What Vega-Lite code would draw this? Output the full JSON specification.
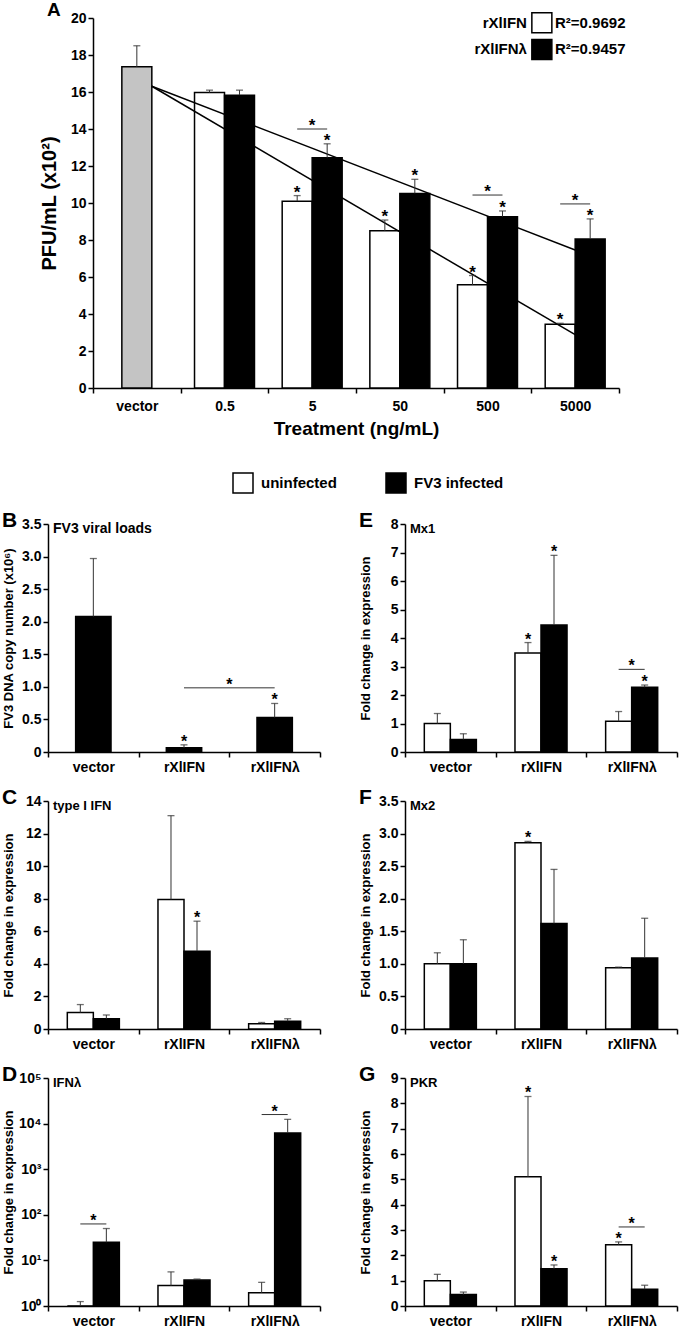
{
 "$schema": "https://vega.github.io/schema/vega-lite/v6.json",
 "padding": {"left": 1, "top": 0, "right": 2, "bottom": 0},
 "config": {
  "font": "Liberation Sans",
  "view": {"stroke": null},
  "axis": {"domainColor": "black", "domainWidth": 1.5, "tickColor": "black", "tickWidth": 1.5, "tickSize": 5, "labelColor": "black", "labelFontWeight": "bold", "labelFontSize": 14, "titleColor": "black", "titleFontWeight": "bold", "titleFontSize": 13, "grid": false, "labelPadding": 2, "labelOverlap": false},
  "axisX": {"labelPadding": 3},
  "title": {"color": "black", "fontWeight": "bold"},
  "text": {"font": "Liberation Sans", "fontWeight": "bold", "color": "black"}
 },
 "datasets": {
  "A": [
   {"t": "vector", "s": "vector", "v": 17.36, "hi": 18.5, "star": false},
   {"t": "0.5", "s": "rXlIFN", "v": 15.97, "hi": 16.1, "star": false},
   {"t": "0.5", "s": "rXlIFNλ", "v": 15.83, "hi": 16.1, "star": false},
   {"t": "5", "s": "rXlIFN", "v": 10.1, "hi": 10.4, "star": true},
   {"t": "5", "s": "rXlIFNλ", "v": 12.45, "hi": 13.2, "star": true},
   {"t": "50", "s": "rXlIFN", "v": 8.5, "hi": 9.08, "star": true},
   {"t": "50", "s": "rXlIFNλ", "v": 10.52, "hi": 11.28, "star": true},
   {"t": "500", "s": "rXlIFN", "v": 5.58, "hi": 6.08, "star": true},
   {"t": "500", "s": "rXlIFNλ", "v": 9.26, "hi": 9.57, "star": true},
   {"t": "5000", "s": "rXlIFN", "v": 3.45, "hi": 3.5, "star": true},
   {"t": "5000", "s": "rXlIFNλ", "v": 8.06, "hi": 9.14, "star": true}
  ],
  "SA": [
   {"t": "5", "y": 14.0},
   {"t": "500", "y": 10.43},
   {"t": "5000", "y": 9.95}
  ],
  "P": [
   {"p": "B", "c": "vector", "s": "FV3 infected", "v": 2.08, "hi": 2.97, "star": false},
   {"p": "B", "c": "rXlIFN", "s": "FV3 infected", "v": 0.065, "hi": 0.11, "star": true},
   {"p": "B", "c": "rXlIFNλ", "s": "FV3 infected", "v": 0.53, "hi": 0.745, "star": true},
   {"p": "C", "c": "vector", "s": "uninfected", "v": 1.01, "hi": 1.5, "star": false},
   {"p": "C", "c": "vector", "s": "FV3 infected", "v": 0.63, "hi": 0.86, "star": false},
   {"p": "C", "c": "rXlIFN", "s": "uninfected", "v": 7.95, "hi": 13.1, "star": false},
   {"p": "C", "c": "rXlIFN", "s": "FV3 infected", "v": 4.78, "hi": 6.62, "star": true},
   {"p": "C", "c": "rXlIFNλ", "s": "uninfected", "v": 0.32, "hi": 0.4, "star": false},
   {"p": "C", "c": "rXlIFNλ", "s": "FV3 infected", "v": 0.48, "hi": 0.63, "star": false},
   {"p": "D", "c": "vector", "s": "uninfected", "v": 1.0, "hi": 1.25, "star": false},
   {"p": "D", "c": "vector", "s": "FV3 infected", "v": 25, "hi": 50, "star": false},
   {"p": "D", "c": "rXlIFN", "s": "uninfected", "v": 2.8, "hi": 5.6, "star": false},
   {"p": "D", "c": "rXlIFN", "s": "FV3 infected", "v": 3.7, "hi": 3.9, "star": false},
   {"p": "D", "c": "rXlIFNλ", "s": "uninfected", "v": 1.95, "hi": 3.3, "star": false},
   {"p": "D", "c": "rXlIFNλ", "s": "FV3 infected", "v": 6200, "hi": 12400, "star": false},
   {"p": "E", "c": "vector", "s": "uninfected", "v": 1.0, "hi": 1.35, "star": false},
   {"p": "E", "c": "vector", "s": "FV3 infected", "v": 0.44, "hi": 0.64, "star": false},
   {"p": "E", "c": "rXlIFN", "s": "uninfected", "v": 3.47, "hi": 3.84, "star": true},
   {"p": "E", "c": "rXlIFN", "s": "FV3 infected", "v": 4.46, "hi": 6.9, "star": true},
   {"p": "E", "c": "rXlIFNλ", "s": "uninfected", "v": 1.08, "hi": 1.42, "star": false},
   {"p": "E", "c": "rXlIFNλ", "s": "FV3 infected", "v": 2.27, "hi": 2.35, "star": true},
   {"p": "F", "c": "vector", "s": "uninfected", "v": 1.0, "hi": 1.17, "star": false},
   {"p": "F", "c": "vector", "s": "FV3 infected", "v": 1.0, "hi": 1.37, "star": false},
   {"p": "F", "c": "rXlIFN", "s": "uninfected", "v": 2.86, "hi": 2.88, "star": true},
   {"p": "F", "c": "rXlIFN", "s": "FV3 infected", "v": 1.62, "hi": 2.45, "star": false},
   {"p": "F", "c": "rXlIFNλ", "s": "uninfected", "v": 0.94, "hi": 0.95, "star": false},
   {"p": "F", "c": "rXlIFNλ", "s": "FV3 infected", "v": 1.09, "hi": 1.7, "star": false},
   {"p": "G", "c": "vector", "s": "uninfected", "v": 1.0, "hi": 1.25, "star": false},
   {"p": "G", "c": "vector", "s": "FV3 infected", "v": 0.45, "hi": 0.55, "star": false},
   {"p": "G", "c": "rXlIFN", "s": "uninfected", "v": 5.1, "hi": 8.27, "star": true},
   {"p": "G", "c": "rXlIFN", "s": "FV3 infected", "v": 1.47, "hi": 1.62, "star": true},
   {"p": "G", "c": "rXlIFNλ", "s": "uninfected", "v": 2.42, "hi": 2.53, "star": true},
   {"p": "G", "c": "rXlIFNλ", "s": "FV3 infected", "v": 0.66, "hi": 0.82, "star": false}
  ],
  "S": [
   {"p": "D", "c": "vector", "y": 63},
   {"p": "D", "c": "rXlIFNλ", "y": 15800},
   {"p": "E", "c": "rXlIFNλ", "y": 2.9},
   {"p": "G", "c": "rXlIFNλ", "y": 3.12}
  ]
 },
 "resolve": {"scale": {"xOffset": "independent"}},
 "spacing": 72,
 "vconcat": [
  {
   "spacing": 0,
   "hconcat": [
    {"width": 38, "height": 10, "data": {"values": []}, "mark": "rect"},
    {
     "width": 526, "height": 370,
     "title": {"text": "A", "anchor": "start", "frame": "group", "fontSize": 19, "offset": -10, "dx": -46},
     "data": {"name": "A"},
     "layer": [
      {"transform": [{"filter": "datum.s === 'vector'"}],
       "mark": {"type": "bar", "stroke": "black", "strokeWidth": 1.5, "width": {"band": 0.342}},
       "encoding": {
        "x": {"field": "t", "type": "nominal", "scale": {"domain": ["vector", "0.5", "5", "50", "500", "5000"], "paddingInner": 0, "paddingOuter": 0}, "axis": {"title": "Treatment (ng/mL)", "labelAngle": 0, "tickBand": "extent", "labelFontSize": 14, "titleFontSize": 19, "labelPadding": 6, "titlePadding": 6}},
        "y": {"field": "v", "type": "quantitative", "scale": {"domain": [0, 20], "nice": false}, "axis": {"title": "PFU/mL (x10²)", "values": [0, 2, 4, 6, 8, 10, 12, 14, 16, 18, 20], "tickCount": 30, "format": "d", "titleFontSize": 20, "titlePadding": 8, "minExtent": 26, "maxExtent": 26}},
        "color": {"field": "s", "type": "nominal", "scale": {"domain": ["vector", "rXlIFN", "rXlIFNλ"], "range": ["#c4c4c4", "#ffffff", "#000000"]}, "legend": null}
       }},
      {"transform": [{"filter": "datum.s !== 'vector'"}],
       "mark": {"type": "bar", "stroke": "black", "strokeWidth": 1.5},
       "encoding": {
        "x": {"field": "t", "type": "nominal"},
        "xOffset": {"field": "s", "type": "nominal", "scale": {"domain": ["rXlIFN", "rXlIFNλ"], "paddingInner": 0, "paddingOuter": 0.462}},
        "y": {"field": "v", "type": "quantitative"},
        "color": {"field": "s", "type": "nominal", "legend": null}
       }},
      {"data": {"values": [{"from": "vector", "to": "5000", "y0": 16.31, "y1": 2.88}, {"from": "vector", "to": "5000", "y0": 16.31, "y1": 7.46}]},
       "mark": {"type": "rule", "color": "black", "strokeWidth": 1.5},
       "encoding": {
        "x": {"field": "from", "type": "nominal", "bandPosition": 0.671},
        "x2": {"field": "to", "bandPosition": 0.5},
        "y": {"field": "y0", "type": "quantitative"},
        "y2": {"field": "y1"}
       }},
      {"transform": [{"filter": "datum.s === 'vector'"}],
       "layer": [
        {"mark": {"type": "rule", "color": "#333", "strokeWidth": 1},
         "encoding": {"x": {"field": "t", "type": "nominal"}, "y": {"field": "v", "type": "quantitative"}, "y2": {"field": "hi"}}},
        {"mark": {"type": "tick", "color": "#333", "size": 7, "thickness": 1.3},
         "encoding": {"x": {"field": "t", "type": "nominal"}, "y": {"field": "hi", "type": "quantitative"}}}
       ]},
      {"transform": [{"filter": "datum.s !== 'vector'"}],
       "layer": [
        {"mark": {"type": "rule", "color": "#333", "strokeWidth": 1},
         "encoding": {"x": {"field": "t", "type": "nominal"}, "xOffset": {"field": "s", "type": "nominal"}, "y": {"field": "v", "type": "quantitative"}, "y2": {"field": "hi"}}},
        {"mark": {"type": "tick", "color": "#333", "size": 7, "thickness": 1.3},
         "encoding": {"x": {"field": "t", "type": "nominal"}, "xOffset": {"field": "s", "type": "nominal"}, "y": {"field": "hi", "type": "quantitative"}}},
        {"transform": [{"filter": "datum.star"}],
         "mark": {"type": "text", "text": "*", "fontSize": 17, "baseline": "alphabetic", "dy": 2},
         "encoding": {"x": {"field": "t", "type": "nominal"}, "xOffset": {"field": "s", "type": "nominal"}, "y": {"field": "hi", "type": "quantitative"}}}
       ]},
      {"data": {"name": "SA"},
       "layer": [
        {"mark": {"type": "rule", "color": "#333", "strokeWidth": 1},
         "encoding": {"x": {"field": "t", "type": "nominal", "bandPosition": 0.329}, "x2": {"field": "t", "bandPosition": 0.671}, "y": {"field": "y", "type": "quantitative"}}},
        {"mark": {"type": "text", "text": "*", "fontSize": 17, "baseline": "alphabetic", "dy": 2},
         "encoding": {"x": {"field": "t", "type": "nominal"}, "y": {"field": "y", "type": "quantitative"}}}
       ]},
      {"data": {"values": [{"n": "rXlIFN", "r": "R²=0.9692"}]},
       "layer": [
        {"mark": {"type": "square", "size": 400, "filled": true, "opacity": 1, "stroke": "black", "strokeWidth": 1.5},
         "encoding": {"x": {"datum": "5000", "bandPosition": 0.12}, "y": {"datum": 19.75}, "color": {"datum": "rXlIFN"}}},
        {"mark": {"type": "text", "align": "right", "baseline": "middle", "fontSize": 15},
         "encoding": {"x": {"datum": "500", "bandPosition": 0.95}, "y": {"datum": 19.75}, "text": {"field": "n"}}},
        {"mark": {"type": "text", "align": "left", "baseline": "middle", "fontSize": 15},
         "encoding": {"x": {"datum": "5000", "bandPosition": 0.27}, "y": {"datum": 19.75}, "text": {"field": "r"}}}
       ]},
      {"data": {"values": [{"n": "rXlIFNλ", "r": "R²=0.9457"}]},
       "layer": [
        {"mark": {"type": "square", "size": 400, "filled": true, "opacity": 1, "stroke": "black", "strokeWidth": 1.5},
         "encoding": {"x": {"datum": "5000", "bandPosition": 0.12}, "y": {"datum": 18.3}, "color": {"datum": "rXlIFNλ"}}},
        {"mark": {"type": "text", "align": "right", "baseline": "middle", "fontSize": 15},
         "encoding": {"x": {"datum": "500", "bandPosition": 0.95}, "y": {"datum": 18.3}, "text": {"field": "n"}}},
        {"mark": {"type": "text", "align": "left", "baseline": "middle", "fontSize": 15},
         "encoding": {"x": {"datum": "5000", "bandPosition": 0.27}, "y": {"datum": 18.3}, "text": {"field": "r"}}}
       ]}
     ]
    }
   ]
  },
  {
   "spacing": 0,
   "hconcat": [
    {"width": 1, "height": 10, "data": {"values": []}, "mark": "rect"},
    {
     "spacing": 13,
     "vconcat": [
      {
       "spacing": 38,
       "hconcat": [
        {
         "width": 272, "height": 228,
         "title": {"text": "B", "anchor": "start", "frame": "bounds", "fontSize": 21, "offset": -14},
         "data": {"name": "P"},
         "transform": [{"filter": "datum.p === 'B'"}],
         "layer": [
          {"mark": {"type": "bar", "stroke": "black", "strokeWidth": 1.5, "width": {"band": 0.39}},
           "encoding": {
            "x": {"field": "c", "type": "nominal", "scale": {"domain": ["vector", "rXlIFN", "rXlIFNλ"], "paddingInner": 0, "paddingOuter": 0}, "axis": {"title": null, "labelAngle": 0, "tickBand": "extent"}},
            "y": {"field": "v", "type": "quantitative", "scale": {"domain": [0, 3.5], "nice": false}, "axis": {"title": "FV3 DNA copy number (x10⁶)", "values": [0, 0.5, 1, 1.5, 2, 2.5, 3, 3.5], "tickCount": 30, "labelExpr": "datum.value === 0 ? '0' : format(datum.value, '.1f')", "minExtent": 30, "maxExtent": 30, "titlePadding": 3}},
            "fill": {"field": "s", "type": "nominal", "scale": {"domain": ["uninfected", "FV3 infected"], "range": ["#ffffff", "#000000"]}, "legend": {"orient": "none", "legendX": 231, "legendY": 454, "direction": "horizontal", "title": null, "symbolType": "square", "symbolSize": 400, "symbolStrokeColor": "black", "symbolStrokeWidth": 1.5, "labelFontSize": 15, "labelFontWeight": "bold", "labelColor": "black", "columnPadding": 46, "labelOffset": 7}}
           }},
          {"mark": {"type": "rule", "color": "#333", "strokeWidth": 1},
           "encoding": {"x": {"field": "c", "type": "nominal"}, "y": {"field": "v", "type": "quantitative"}, "y2": {"field": "hi"}}},
          {"mark": {"type": "tick", "color": "#333", "size": 7, "thickness": 1.3},
           "encoding": {"x": {"field": "c", "type": "nominal"}, "y": {"field": "hi", "type": "quantitative"}}},
          {"transform": [{"filter": "datum.star"}],
           "mark": {"type": "text", "text": "*", "fontSize": 16, "baseline": "alphabetic", "dy": 2},
           "encoding": {"x": {"field": "c", "type": "nominal"}, "y": {"field": "hi", "type": "quantitative"}}},
          {"data": {"values": [{"a": "rXlIFN", "b": "rXlIFNλ", "y": 0.985}]},
           "layer": [
            {"mark": {"type": "rule", "color": "#333", "strokeWidth": 1},
             "encoding": {"x": {"field": "a", "type": "nominal", "bandPosition": 0.5}, "x2": {"field": "b", "bandPosition": 0.5}, "y": {"field": "y", "type": "quantitative"}}},
            {"mark": {"type": "text", "text": "*", "fontSize": 16, "baseline": "alphabetic", "dy": 2},
             "encoding": {"x": {"field": "b", "type": "nominal", "bandPosition": 0}, "y": {"field": "y", "type": "quantitative"}}}
           ]},
          {"data": {"values": [{"label": "FV3 viral loads"}]},
           "mark": {"type": "text", "align": "left", "baseline": "middle", "dx": 5, "dy": 5, "fontSize": 14},
           "encoding": {"x": {"datum": "vector", "bandPosition": 0}, "y": {"datum": 3.5}, "text": {"field": "label"}}}
         ]
        },
        {
         "width": 272, "height": 228,
         "title": {"text": "E", "anchor": "start", "frame": "bounds", "fontSize": 21, "offset": -14},
         "data": {"name": "P"},
         "transform": [{"filter": "datum.p === 'E'"}],
         "layer": [
          {"mark": {"type": "bar", "stroke": "black", "strokeWidth": 1.5},
           "encoding": {
            "x": {"field": "c", "type": "nominal", "scale": {"domain": ["vector", "rXlIFN", "rXlIFNλ"], "paddingInner": 0, "paddingOuter": 0}, "axis": {"title": null, "labelAngle": 0, "tickBand": "extent"}},
            "xOffset": {"field": "s", "type": "nominal", "scale": {"domain": ["uninfected", "FV3 infected"], "paddingInner": 0, "paddingOuter": 0.742}},
            "y": {"field": "v", "type": "quantitative", "scale": {"domain": [0, 8], "nice": false}, "axis": {"title": "Fold change in expression", "values": [0, 1, 2, 3, 4, 5, 6, 7, 8], "tickCount": 30, "format": "d", "minExtent": 30, "maxExtent": 30, "titlePadding": 3}},
            "fill": {"field": "s", "type": "nominal", "scale": {"domain": ["uninfected", "FV3 infected"], "range": ["#ffffff", "#000000"]}, "legend": {"orient": "none", "legendX": 231, "legendY": 454, "direction": "horizontal", "title": null, "symbolType": "square", "symbolSize": 400, "symbolStrokeColor": "black", "symbolStrokeWidth": 1.5, "labelFontSize": 15, "labelFontWeight": "bold", "labelColor": "black", "columnPadding": 46, "labelOffset": 7}}
           }},
          {"mark": {"type": "rule", "color": "#333", "strokeWidth": 1},
           "encoding": {"x": {"field": "c", "type": "nominal"}, "xOffset": {"field": "s", "type": "nominal"}, "y": {"field": "v", "type": "quantitative"}, "y2": {"field": "hi"}}},
          {"mark": {"type": "tick", "color": "#333", "size": 7, "thickness": 1.3},
           "encoding": {"x": {"field": "c", "type": "nominal"}, "xOffset": {"field": "s", "type": "nominal"}, "y": {"field": "hi", "type": "quantitative"}}},
          {"transform": [{"filter": "datum.star"}],
           "mark": {"type": "text", "text": "*", "fontSize": 16, "baseline": "alphabetic", "dy": 2},
           "encoding": {"x": {"field": "c", "type": "nominal"}, "xOffset": {"field": "s", "type": "nominal"}, "y": {"field": "hi", "type": "quantitative"}}},
          {"data": {"name": "S"}, "transform": [{"filter": "datum.p === 'E'"}],
           "layer": [
            {"mark": {"type": "rule", "color": "#333", "strokeWidth": 1},
             "encoding": {"x": {"field": "c", "type": "nominal", "bandPosition": 0.3565}, "x2": {"field": "c", "bandPosition": 0.6435}, "y": {"field": "y", "type": "quantitative"}}},
            {"mark": {"type": "text", "text": "*", "fontSize": 16, "baseline": "alphabetic", "dy": 2},
             "encoding": {"x": {"field": "c", "type": "nominal"}, "y": {"field": "y", "type": "quantitative"}}}
           ]},
          {"data": {"values": [{"label": "Mx1"}]},
           "mark": {"type": "text", "align": "left", "baseline": "middle", "dx": 5, "dy": 5, "fontSize": 13},
           "encoding": {"x": {"datum": "vector", "bandPosition": 0}, "y": {"datum": 8}, "text": {"field": "label"}}}
         ]
        }
       ]
      },
      {
       "spacing": 38,
       "hconcat": [
        {
         "width": 272, "height": 228,
         "title": {"text": "C", "anchor": "start", "frame": "bounds", "fontSize": 21, "offset": -14},
         "data": {"name": "P"},
         "transform": [{"filter": "datum.p === 'C'"}],
         "layer": [
          {"mark": {"type": "bar", "stroke": "black", "strokeWidth": 1.5},
           "encoding": {
            "x": {"field": "c", "type": "nominal", "scale": {"domain": ["vector", "rXlIFN", "rXlIFNλ"], "paddingInner": 0, "paddingOuter": 0}, "axis": {"title": null, "labelAngle": 0, "tickBand": "extent"}},
            "xOffset": {"field": "s", "type": "nominal", "scale": {"domain": ["uninfected", "FV3 infected"], "paddingInner": 0, "paddingOuter": 0.742}},
            "y": {"field": "v", "type": "quantitative", "scale": {"domain": [0, 14], "nice": false}, "axis": {"title": "Fold change in expression", "values": [0, 2, 4, 6, 8, 10, 12, 14], "tickCount": 30, "format": "d", "minExtent": 30, "maxExtent": 30, "titlePadding": 3}},
            "fill": {"field": "s", "type": "nominal", "scale": {"domain": ["uninfected", "FV3 infected"], "range": ["#ffffff", "#000000"]}, "legend": {"orient": "none", "legendX": 231, "legendY": 454, "direction": "horizontal", "title": null, "symbolType": "square", "symbolSize": 400, "symbolStrokeColor": "black", "symbolStrokeWidth": 1.5, "labelFontSize": 15, "labelFontWeight": "bold", "labelColor": "black", "columnPadding": 46, "labelOffset": 7}}
           }},
          {"mark": {"type": "rule", "color": "#333", "strokeWidth": 1},
           "encoding": {"x": {"field": "c", "type": "nominal"}, "xOffset": {"field": "s", "type": "nominal"}, "y": {"field": "v", "type": "quantitative"}, "y2": {"field": "hi"}}},
          {"mark": {"type": "tick", "color": "#333", "size": 7, "thickness": 1.3},
           "encoding": {"x": {"field": "c", "type": "nominal"}, "xOffset": {"field": "s", "type": "nominal"}, "y": {"field": "hi", "type": "quantitative"}}},
          {"transform": [{"filter": "datum.star"}],
           "mark": {"type": "text", "text": "*", "fontSize": 16, "baseline": "alphabetic", "dy": 2},
           "encoding": {"x": {"field": "c", "type": "nominal"}, "xOffset": {"field": "s", "type": "nominal"}, "y": {"field": "hi", "type": "quantitative"}}},
          {"data": {"values": [{"label": "type I IFN"}]},
           "mark": {"type": "text", "align": "left", "baseline": "middle", "dx": 5, "dy": 5, "fontSize": 13},
           "encoding": {"x": {"datum": "vector", "bandPosition": 0}, "y": {"datum": 14}, "text": {"field": "label"}}}
         ]
        },
        {
         "width": 272, "height": 228,
         "title": {"text": "F", "anchor": "start", "frame": "bounds", "fontSize": 21, "offset": -14},
         "data": {"name": "P"},
         "transform": [{"filter": "datum.p === 'F'"}],
         "layer": [
          {"mark": {"type": "bar", "stroke": "black", "strokeWidth": 1.5},
           "encoding": {
            "x": {"field": "c", "type": "nominal", "scale": {"domain": ["vector", "rXlIFN", "rXlIFNλ"], "paddingInner": 0, "paddingOuter": 0}, "axis": {"title": null, "labelAngle": 0, "tickBand": "extent"}},
            "xOffset": {"field": "s", "type": "nominal", "scale": {"domain": ["uninfected", "FV3 infected"], "paddingInner": 0, "paddingOuter": 0.742}},
            "y": {"field": "v", "type": "quantitative", "scale": {"domain": [0, 3.5], "nice": false}, "axis": {"title": "Fold change in expression", "values": [0, 0.5, 1, 1.5, 2, 2.5, 3, 3.5], "tickCount": 30, "labelExpr": "datum.value === 0 ? '0' : format(datum.value, '.1f')", "minExtent": 30, "maxExtent": 30, "titlePadding": 3}},
            "fill": {"field": "s", "type": "nominal", "scale": {"domain": ["uninfected", "FV3 infected"], "range": ["#ffffff", "#000000"]}, "legend": {"orient": "none", "legendX": 231, "legendY": 454, "direction": "horizontal", "title": null, "symbolType": "square", "symbolSize": 400, "symbolStrokeColor": "black", "symbolStrokeWidth": 1.5, "labelFontSize": 15, "labelFontWeight": "bold", "labelColor": "black", "columnPadding": 46, "labelOffset": 7}}
           }},
          {"mark": {"type": "rule", "color": "#333", "strokeWidth": 1},
           "encoding": {"x": {"field": "c", "type": "nominal"}, "xOffset": {"field": "s", "type": "nominal"}, "y": {"field": "v", "type": "quantitative"}, "y2": {"field": "hi"}}},
          {"mark": {"type": "tick", "color": "#333", "size": 7, "thickness": 1.3},
           "encoding": {"x": {"field": "c", "type": "nominal"}, "xOffset": {"field": "s", "type": "nominal"}, "y": {"field": "hi", "type": "quantitative"}}},
          {"transform": [{"filter": "datum.star"}],
           "mark": {"type": "text", "text": "*", "fontSize": 16, "baseline": "alphabetic", "dy": 2},
           "encoding": {"x": {"field": "c", "type": "nominal"}, "xOffset": {"field": "s", "type": "nominal"}, "y": {"field": "hi", "type": "quantitative"}}},
          {"data": {"values": [{"label": "Mx2"}]},
           "mark": {"type": "text", "align": "left", "baseline": "middle", "dx": 5, "dy": 5, "fontSize": 13},
           "encoding": {"x": {"datum": "vector", "bandPosition": 0}, "y": {"datum": 3.5}, "text": {"field": "label"}}}
         ]
        }
       ]
      },
      {
       "spacing": 38,
       "hconcat": [
        {
         "width": 272, "height": 228,
         "title": {"text": "D", "anchor": "start", "frame": "bounds", "fontSize": 21, "offset": -14},
         "data": {"name": "P"},
         "transform": [{"filter": "datum.p === 'D'"}],
         "layer": [
          {"mark": {"type": "bar", "stroke": "black", "strokeWidth": 1.5},
           "encoding": {
            "x": {"field": "c", "type": "nominal", "scale": {"domain": ["vector", "rXlIFN", "rXlIFNλ"], "paddingInner": 0, "paddingOuter": 0}, "axis": {"title": null, "labelAngle": 0, "tickBand": "extent"}},
            "xOffset": {"field": "s", "type": "nominal", "scale": {"domain": ["uninfected", "FV3 infected"], "paddingInner": 0, "paddingOuter": 0.742}},
            "y": {"field": "v", "type": "quantitative", "scale": {"type": "log", "domain": [1, 100000], "nice": false}, "axis": {"title": "Fold change in expression", "values": [1, 10, 100, 1000, 10000, 100000], "tickCount": 30, "labelExpr": "'10' + ['⁰','¹','²','³','⁴','⁵'][round(log(datum.value)/LN10)]", "minExtent": 30, "maxExtent": 30, "titlePadding": 3}},
            "y2": {"datum": 1},
            "fill": {"field": "s", "type": "nominal", "scale": {"domain": ["uninfected", "FV3 infected"], "range": ["#ffffff", "#000000"]}, "legend": {"orient": "none", "legendX": 231, "legendY": 454, "direction": "horizontal", "title": null, "symbolType": "square", "symbolSize": 400, "symbolStrokeColor": "black", "symbolStrokeWidth": 1.5, "labelFontSize": 15, "labelFontWeight": "bold", "labelColor": "black", "columnPadding": 46, "labelOffset": 7}}
           }},
          {"mark": {"type": "rule", "color": "#333", "strokeWidth": 1},
           "encoding": {"x": {"field": "c", "type": "nominal"}, "xOffset": {"field": "s", "type": "nominal"}, "y": {"field": "v", "type": "quantitative"}, "y2": {"field": "hi"}}},
          {"mark": {"type": "tick", "color": "#333", "size": 7, "thickness": 1.3},
           "encoding": {"x": {"field": "c", "type": "nominal"}, "xOffset": {"field": "s", "type": "nominal"}, "y": {"field": "hi", "type": "quantitative"}}},
          {"data": {"name": "S"}, "transform": [{"filter": "datum.p === 'D'"}],
           "layer": [
            {"mark": {"type": "rule", "color": "#333", "strokeWidth": 1},
             "encoding": {"x": {"field": "c", "type": "nominal", "bandPosition": 0.3565}, "x2": {"field": "c", "bandPosition": 0.6435}, "y": {"field": "y", "type": "quantitative"}}},
            {"mark": {"type": "text", "text": "*", "fontSize": 16, "baseline": "alphabetic", "dy": 2},
             "encoding": {"x": {"field": "c", "type": "nominal"}, "y": {"field": "y", "type": "quantitative"}}}
           ]},
          {"data": {"values": [{"label": "IFNλ"}]},
           "mark": {"type": "text", "align": "left", "baseline": "middle", "dx": 5, "dy": 5, "fontSize": 13},
           "encoding": {"x": {"datum": "vector", "bandPosition": 0}, "y": {"datum": 100000}, "text": {"field": "label"}}}
         ]
        },
        {
         "width": 272, "height": 228,
         "title": {"text": "G", "anchor": "start", "frame": "bounds", "fontSize": 21, "offset": -14},
         "data": {"name": "P"},
         "transform": [{"filter": "datum.p === 'G'"}],
         "layer": [
          {"mark": {"type": "bar", "stroke": "black", "strokeWidth": 1.5},
           "encoding": {
            "x": {"field": "c", "type": "nominal", "scale": {"domain": ["vector", "rXlIFN", "rXlIFNλ"], "paddingInner": 0, "paddingOuter": 0}, "axis": {"title": null, "labelAngle": 0, "tickBand": "extent"}},
            "xOffset": {"field": "s", "type": "nominal", "scale": {"domain": ["uninfected", "FV3 infected"], "paddingInner": 0, "paddingOuter": 0.742}},
            "y": {"field": "v", "type": "quantitative", "scale": {"domain": [0, 9], "nice": false}, "axis": {"title": "Fold change in expression", "values": [0, 1, 2, 3, 4, 5, 6, 7, 8, 9], "tickCount": 30, "format": "d", "minExtent": 30, "maxExtent": 30, "titlePadding": 3}},
            "fill": {"field": "s", "type": "nominal", "scale": {"domain": ["uninfected", "FV3 infected"], "range": ["#ffffff", "#000000"]}, "legend": {"orient": "none", "legendX": 231, "legendY": 454, "direction": "horizontal", "title": null, "symbolType": "square", "symbolSize": 400, "symbolStrokeColor": "black", "symbolStrokeWidth": 1.5, "labelFontSize": 15, "labelFontWeight": "bold", "labelColor": "black", "columnPadding": 46, "labelOffset": 7}}
           }},
          {"mark": {"type": "rule", "color": "#333", "strokeWidth": 1},
           "encoding": {"x": {"field": "c", "type": "nominal"}, "xOffset": {"field": "s", "type": "nominal"}, "y": {"field": "v", "type": "quantitative"}, "y2": {"field": "hi"}}},
          {"mark": {"type": "tick", "color": "#333", "size": 7, "thickness": 1.3},
           "encoding": {"x": {"field": "c", "type": "nominal"}, "xOffset": {"field": "s", "type": "nominal"}, "y": {"field": "hi", "type": "quantitative"}}},
          {"transform": [{"filter": "datum.star"}],
           "mark": {"type": "text", "text": "*", "fontSize": 16, "baseline": "alphabetic", "dy": 2},
           "encoding": {"x": {"field": "c", "type": "nominal"}, "xOffset": {"field": "s", "type": "nominal"}, "y": {"field": "hi", "type": "quantitative"}}},
          {"data": {"name": "S"}, "transform": [{"filter": "datum.p === 'G'"}],
           "layer": [
            {"mark": {"type": "rule", "color": "#333", "strokeWidth": 1},
             "encoding": {"x": {"field": "c", "type": "nominal", "bandPosition": 0.3565}, "x2": {"field": "c", "bandPosition": 0.6435}, "y": {"field": "y", "type": "quantitative"}}},
            {"mark": {"type": "text", "text": "*", "fontSize": 16, "baseline": "alphabetic", "dy": 2},
             "encoding": {"x": {"field": "c", "type": "nominal"}, "y": {"field": "y", "type": "quantitative"}}}
           ]},
          {"data": {"values": [{"label": "PKR"}]},
           "mark": {"type": "text", "align": "left", "baseline": "middle", "dx": 5, "dy": 5, "fontSize": 13},
           "encoding": {"x": {"datum": "vector", "bandPosition": 0}, "y": {"datum": 9}, "text": {"field": "label"}}}
         ]
        }
       ]
      }
     ]
    }
   ]
  }
 ]
}
